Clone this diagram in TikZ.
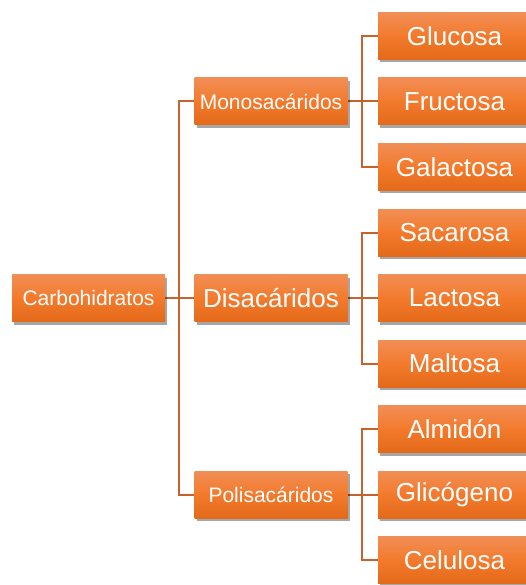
\documentclass[tikz,border=0pt]{standalone}
\usepackage{fontspec}
\setmainfont{Liberation Sans}
\usetikzlibrary{shadows,backgrounds}
\definecolor{otop}{RGB}{241,142,86}
\definecolor{omid}{RGB}{243,122,44}
\definecolor{obot}{RGB}{228,106,26}
\definecolor{lineC}{RGB}{198,98,46}
\tikzset{
  box/.style={minimum width=153pt, minimum height=47pt, inner sep=0pt,
    top color=otop, bottom color=obot, middle color=omid, text=white,
    drop shadow={shadow xshift=2pt, shadow yshift=-3pt, opacity=0.35, fill=black}},
  smalltxt/.style={font=\fontsize{21}{25}\selectfont},
  bigtxt/.style={font=\fontsize{26}{30}\selectfont},
  conn/.style={draw=lineC, line width=2pt}
}
\begin{document}
\begin{tikzpicture}[x=1pt,y=1pt]
\useasboundingbox (0,0) rectangle (526,-585);
\clip (0,0) rectangle (526,-585);
\node[box,smalltxt] (root) at (88.5,-298) {Carbohidratos};
\node[box,smalltxt] (mono) at (271,-101.5) {Monosacáridos};
\node[box,bigtxt] (dis) at (271,-298) {Disacáridos};
\node[box,smalltxt] (poli) at (271,-494.5) {Polisacáridos};
\node[box,bigtxt] (glu) at (454.5,-36) {Glucosa};
\node[box,bigtxt] (fru) at (454.5,-101.5) {Fructosa};
\node[box,bigtxt] (gal) at (454.5,-167) {Galactosa};
\node[box,bigtxt] (sac) at (454.5,-232.5) {Sacarosa};
\node[box,bigtxt] (lac) at (454.5,-298) {Lactosa};
\node[box,bigtxt] (mal) at (454.5,-363.5) {Maltosa};
\node[box,bigtxt] (alm) at (454.5,-429) {Almidón};
\node[box,bigtxt] (gli) at (454.5,-494.5) {Glicógeno};
\node[box,bigtxt] (cel) at (454.5,-560) {Celulosa};
\begin{scope}[on background layer]
\draw[conn] (mono.west) -- ++(-15,0) |- (poli.west);
\draw[conn] (root.east) -- (dis.west);
\draw[conn] (glu.west) -- ++(-16,0) |- (gal.west);
\draw[conn] (mono.east) -- (fru.west);
\draw[conn] (sac.west) -- ++(-16,0) |- (mal.west);
\draw[conn] (dis.east) -- (lac.west);
\draw[conn] (alm.west) -- ++(-16,0) |- (cel.west);
\draw[conn] (poli.east) -- (gli.west);
\end{scope}
\end{tikzpicture}
\end{document}
